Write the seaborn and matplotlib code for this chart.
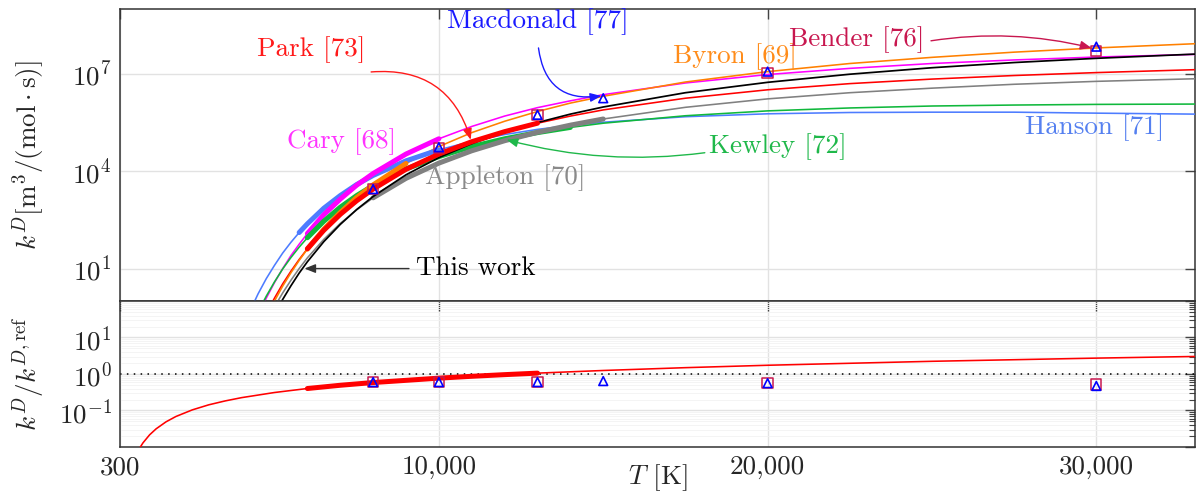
import numpy as np
import pandas as pd
import matplotlib
matplotlib.use("Agg")
import matplotlib.pyplot as plt
import seaborn as sns
from matplotlib.ticker import FixedLocator, FixedFormatter, NullLocator, LogLocator, NullFormatter

# ---------------- data ----------------
T_grid = [4000, 4250, 4500, 4750, 5000, 5250, 5500, 5750, 6000, 6500, 7000, 7500, 8000,
          9000, 10000, 11000, 12000, 13000, 14000, 15000, 17500, 20000, 22500, 25000,
          27500, 30000, 33000]

log_k_this_work = [-2.86, -2.14, -1.50, -0.93, -0.41, 0.05, 0.47, 0.86, 1.21, 1.83, 2.36, 2.82, 3.22,
                   3.89, 4.42, 4.85, 5.20, 5.50, 5.76, 5.98, 6.42, 6.74, 6.99, 7.19, 7.35, 7.48, 7.61]
log_k_park = [-2.21, -1.53, -0.93, -0.39, 0.09, 0.53, 0.92, 1.28, 1.61, 2.18, 2.67, 3.09, 3.45,
              4.06, 4.53, 4.91, 5.22, 5.48, 5.70, 5.89, 6.25, 6.51, 6.70, 6.84, 6.95, 7.04, 7.13]
log_k_cary = [-1.73, -1.05, -0.45, 0.09, 0.57, 1.00, 1.40, 1.75, 2.08, 2.66, 3.14, 3.57, 3.93,
              4.53, 5.00, 5.38, 5.70, 5.96, 6.17, 6.36, 6.72, 6.98, 7.17, 7.32, 7.43, 7.52, 7.60]
log_k_byron = [-2.41, -1.70, -1.07, -0.51, 0.00, 0.46, 0.87, 1.25, 1.60, 2.21, 2.73, 3.19, 3.58,
               4.24, 4.76, 5.19, 5.54, 5.84, 6.10, 6.31, 6.75, 7.07, 7.32, 7.51, 7.67, 7.80, 7.93]
log_k_appleton = [-2.49, -1.81, -1.20, -0.66, -0.18, 0.25, 0.64, 1.00, 1.33, 1.90, 2.39, 2.81, 3.18,
                  3.78, 4.25, 4.63, 4.94, 5.20, 5.42, 5.61, 5.97, 6.23, 6.42, 6.56, 6.68, 6.77, 6.85]
log_k_hanson = [-0.92, -0.32, 0.22, 0.69, 1.10, 1.48, 1.81, 2.11, 2.38, 2.86, 3.25, 3.59, 3.87,
                4.32, 4.66, 4.92, 5.13, 5.29, 5.41, 5.51, 5.68, 5.77, 5.81, 5.82, 5.82, 5.79, 5.76]
log_k_kewley = [-1.53, -0.90, -0.34, 0.15, 0.59, 0.99, 1.34, 1.66, 1.95, 2.46, 2.89, 3.25, 3.56,
                4.07, 4.45, 4.76, 5.00, 5.19, 5.35, 5.48, 5.71, 5.86, 5.95, 6.01, 6.04, 6.06, 6.07]

# ranges drawn as thick segments (validity ranges)
thick_range = {"Hanson": (5750, 10000), "Cary": (6000, 10000), "Kewley": (6000, 14000),
               "Byron": (6000, 9000), "Appleton": (8000, 15000), "Park": (6000, 13000)}

T_bender = [8000, 10000, 13000, 20000, 30000]
log_k_bender = [3.45, 4.72, 5.74, 7.02, 7.70]
ratio_bender = [0.60, 0.60, 0.60, 0.56, 0.52]

T_macdonald = [8000, 10000, 13000, 15000, 20000, 30000]
log_k_macdonald = [3.45, 4.74, 5.74, 6.25, 7.07, 7.84]
ratio_macdonald = [0.60, 0.60, 0.60, 0.64, 0.56, 0.47]

T_ratio = [900, 1000, 1200, 1400, 1700, 2000, 2500, 3000, 3500, 4000, 5000, 6000, 7000, 8000,
           10000, 11000, 12000, 13000, 15000, 17500, 20000, 25000, 30000, 33000]
ratio_park = [0.0094, 0.0130, 0.0215, 0.0315, 0.0489, 0.0684, 0.104, 0.143, 0.183, 0.225, 0.311,
              0.400, 0.491, 0.583, 0.770, 0.865, 0.960, 1.056, 1.248, 1.491, 1.735, 2.227, 2.723, 3.022]

x_ticks = [300, 10000, 20000, 30000]
x_tick_labels = ["300", "10,000", "20,000", "30,000"]

colors = {"This work": "#000000", "Park": "#ff0000", "Cary": "#ff00ff", "Byron": "#ff8000",
          "Appleton": "#808080", "Hanson": "#4d7cff", "Kewley": "#10b83c"}
c_bender = "#c8174f"
c_mac = "#0000ff"

# ---------------- tables ----------------
series = {"This work": log_k_this_work, "Park": log_k_park, "Cary": log_k_cary,
          "Byron": log_k_byron, "Appleton": log_k_appleton, "Hanson": log_k_hanson,
          "Kewley": log_k_kewley}
rows = []
for name, vals in series.items():
    for t, lk in zip(T_grid, vals):
        rows.append((name, t, 10.0 ** lk))
df = pd.DataFrame(rows, columns=["source", "T", "k"])

thick_rows = df[df.apply(lambda r: r["source"] in thick_range and
                         thick_range[r["source"]][0] <= r["T"] <= thick_range[r["source"]][1], axis=1)]

df_ratio = pd.DataFrame({"T": T_ratio, "r": ratio_park})
df_ratio_thick = df_ratio[(df_ratio["T"] >= thick_range["Park"][0]) & (df_ratio["T"] <= thick_range["Park"][1])]
df_bender = pd.DataFrame({"T": T_bender, "k": [10.0 ** v for v in log_k_bender], "r": ratio_bender})
df_mac = pd.DataFrame({"T": T_macdonald, "k": [10.0 ** v for v in log_k_macdonald], "r": ratio_macdonald})

# ---------------- style ----------------
sns.set_theme(style="white")
plt.rcParams.update({
    "font.family": "serif",
    "font.serif": ["cmr10", "DejaVu Serif"],
    "mathtext.fontset": "cm",
    "axes.unicode_minus": False,
    "axes.formatter.use_mathtext": True,
    "axes.edgecolor": "#333333",
    "axes.linewidth": 1.1,
})

FS = 19.5
fig = plt.figure(figsize=(12, 4.92), dpi=100)
ax1 = fig.add_axes([0.1, 0.3882, 0.8958, 0.5935])
ax2 = fig.add_axes([0.1, 0.0915, 0.8958, 0.2967], sharex=ax1)

# ---------------- top panel ----------------
others = df[df.source != "This work"]
sns.lineplot(data=others, x="T", y="k", hue="source", palette=colors, estimator=None, sort=False,
             linewidth=1.15, legend=False, ax=ax1, zorder=3)
for name in ["Hanson", "Cary", "Kewley", "Byron", "Appleton"]:
    sub = thick_rows[thick_rows.source == name]
    sns.lineplot(data=sub, x="T", y="k", color=colors[name], estimator=None, sort=False,
                 linewidth=3.6, legend=False, ax=ax1, zorder=4)
sns.lineplot(data=df[df.source == "This work"], x="T", y="k", color="black", estimator=None,
             sort=False, linewidth=1.25, legend=False, ax=ax1, zorder=5)
sns.lineplot(data=thick_rows[thick_rows.source == "Park"], x="T", y="k", color=colors["Park"],
             estimator=None, sort=False, linewidth=3.6, legend=False, ax=ax1, zorder=6)
sns.scatterplot(data=df_bender, x="T", y="k", marker="s", s=55, facecolor="none",
                edgecolor=c_bender, linewidth=1.1, ax=ax1, zorder=7)
sns.scatterplot(data=df_mac, x="T", y="k", marker="^", s=40, facecolor="none",
                edgecolor=c_mac, linewidth=1.2, ax=ax1, zorder=8)

ax1.set_yscale("log")
ax1.set_xlim(300, 33000)
ax1.set_ylim(1, 1e9)
ax1.yaxis.set_major_locator(FixedLocator([1e1, 1e4, 1e7]))
ax1.yaxis.set_minor_locator(NullLocator())
ax1.set_ylabel(r"$k^D[\mathrm{m}^3/(\mathrm{mol}\cdot\mathrm{s})]$", fontsize=FS)
ax1.set_xlabel("")
ax1.tick_params(axis="x", labelbottom=False)

# annotations
def label(ax, T, lk, txt, color, ha="center"):
    ax.text(T, 10.0 ** lk, txt, color=color, fontsize=FS, ha=ha, va="center", zorder=10)

def arrow(ax, t0, lk0, t1, lk1, color, rad):
    ax.annotate("", xy=(t1, 10.0 ** lk1), xytext=(t0, 10.0 ** lk0),
                arrowprops=dict(arrowstyle="-|>,head_length=0.55,head_width=0.22", color=color, lw=1.0,
                                connectionstyle=f"arc3,rad={rad}", shrinkA=0, shrinkB=0),
                zorder=10)

label(ax1, 6121, 7.74, "Park [73]", "#ff1a1a")
arrow(ax1, 7939, 7.06, 10970, 4.97, "#ff1a1a", -0.4)
label(ax1, 13000, 8.60, "Macdonald [77]", "#1a1aff")
arrow(ax1, 13030, 7.80, 14940, 6.32, "#1a1aff", 0.5)
label(ax1, 19000, 7.52, "Byron [69]", "#ff8c1a")
label(ax1, 22700, 8.05, "Bender [76]", c_bender)
arrow(ax1, 24970, 8.02, 29850, 7.80, c_bender, -0.1)
label(ax1, 7030, 4.92, "Cary [68]", "#ff33ff")
label(ax1, 29940, 5.34, "Hanson [71]", "#5580f0")
label(ax1, 20300, 4.75, "Kewley [72]", "#1fb84a")
arrow(ax1, 18090, 4.57, 12060, 4.97, "#1fb84a", -0.1)
label(ax1, 12030, 3.80, "Appleton [70]", "#8a8a8a")
label(ax1, 11120, 1.00, "This work", "black")
arrow(ax1, 9090, 1.00, 5910, 1.00, "#333333", 0.0)

# ---------------- bottom panel ----------------
sns.lineplot(data=df_ratio, x="T", y="r", color=colors["Park"], estimator=None, sort=False,
             linewidth=1.15, ax=ax2, zorder=3)
sns.lineplot(data=df_ratio_thick, x="T", y="r", color=colors["Park"], estimator=None, sort=False,
             linewidth=3.6, ax=ax2, zorder=4)
ax2.axhline(1.0, color="black", lw=1.1, ls=(0, (1, 3.5)), zorder=2)
sns.scatterplot(data=df_bender, x="T", y="r", marker="s", s=55, facecolor="none",
                edgecolor=c_bender, linewidth=1.1, ax=ax2, zorder=7)
sns.scatterplot(data=df_mac, x="T", y="r", marker="^", s=40, facecolor="none",
                edgecolor=c_mac, linewidth=1.2, ax=ax2, zorder=8)

ax2.set_yscale("log")
ax2.set_ylim(1e-2, 1e2)
ax2.yaxis.set_major_locator(FixedLocator([1e-2, 1e-1, 1e0, 1e1, 1e2]))
ax2.yaxis.set_major_formatter(FixedFormatter(["", r"$10^{-1}$", r"$10^{0}$", r"$10^{1}$", ""]))
ax2.yaxis.set_minor_locator(LogLocator(base=10, subs=np.arange(2, 10), numticks=20))
ax2.yaxis.set_minor_formatter(NullFormatter())
ax2.xaxis.set_major_locator(FixedLocator(x_ticks))
ax2.xaxis.set_major_formatter(FixedFormatter(x_tick_labels))
ax2.xaxis.set_minor_locator(NullLocator())
ax2.set_xlim(300, 33000)
ax2.set_ylabel(r"$k^D/k^{D,\mathrm{ref}}$", fontsize=FS)
ax2.set_xlabel(r"$T$ [K]", fontsize=FS)

for ax in (ax1, ax2):
    ax.grid(True, which="major", color="#e2e2e2", lw=1.0, zorder=0)
    ax.tick_params(which="both", direction="in", top=True, right=True, color="#444444",
                   labelsize=FS, pad=6)
    ax.tick_params(which="major", length=7, width=1.0)
    ax.tick_params(which="minor", length=4, width=0.8)
    ax.set_axisbelow(True)
    ax.yaxis.set_label_coords(-0.068, 0.5)
ax2.grid(True, which="minor", axis="y", color="#f2f2f2", lw=0.6)
ax2.xaxis.set_label_coords(0.5, -0.105)

fig.savefig("out.png", dpi=100)
